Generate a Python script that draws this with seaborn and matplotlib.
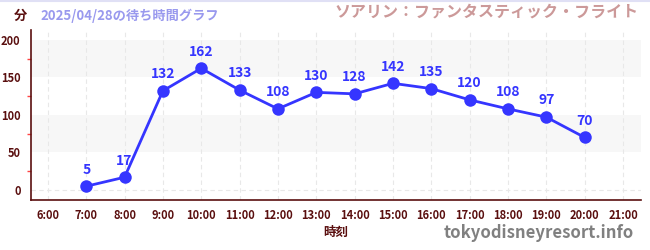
import matplotlib
matplotlib.use("Agg")
import matplotlib.pyplot as plt
import seaborn as sns
import pandas as pd
from matplotlib.ticker import MultipleLocator

hours = [7, 8, 9, 10, 11, 12, 13, 14, 15, 16, 17, 18, 19, 20]
waits = [5, 17, 132, 162, 133, 108, 130, 128, 142, 135, 120, 108, 97, 70]
tick_hours = list(range(6, 22))
tick_labels = [f"{h}:00" for h in tick_hours]
title_date = "2025/04/28の待ち時間グラフ"
title_ride = "ソアリン：ファンタスティック・フライト"

sns.set_theme(style="white")
plt.rcParams['font.family'] = ['Noto Sans CJK JP', 'DejaVu Sans']

df = pd.DataFrame({"hour": hours, "wait": waits})

fig = plt.figure(figsize=(6.5, 2.5), dpi=100)
ax = fig.add_axes([31/650, 1-200/250, 610/650, 170/250])

ax.axhspan(150, 200, color="#f7f7f7", zorder=0, lw=0)
ax.axhspan(50, 100, color="#f7f7f7", zorder=0, lw=0)
for h in tick_hours:
    ax.axvline(h, color="#e8e8e8", lw=0.8, ls=(0, (4, 3)), zorder=0.5)
ax.axhline(0, color="#e8e8e8", lw=0.8, ls=(0, (4, 3)), zorder=0.5)

line_color = "#3535ff"
sns.lineplot(data=df, x="hour", y="wait", ax=ax, color=line_color, lw=2.0,
             marker="o", markersize=9, markeredgewidth=0, zorder=3)
for h, w in zip(hours, waits):
    ax.annotate(str(w), (h, w), xytext=(0, 7), textcoords="offset points",
                ha="center", va="bottom", fontsize=10, fontweight="bold",
                color=line_color, zorder=4)

ax.set_xlim(5.56, 21.47)
ax.set_ylim(-13.3, 213)
ax.set_xticks(tick_hours)
ax.set_xticklabels(tick_labels)
ax.set_yticks([0, 50, 100, 150, 200])
ax.yaxis.set_minor_locator(MultipleLocator(25))
ax.tick_params(axis="both", which="major", labelsize=8, colors="#333333",
               labelcolor="#5a0f0f", length=4, width=1, direction="out")
ax.tick_params(axis="y", which="minor", length=3, width=1, colors="#ff4444", left=True)
ax.tick_params(axis="x", which="major", length=3)
for lab in ax.get_xticklabels() + ax.get_yticklabels():
    lab.set_fontweight("bold")

for s in ["top", "right"]:
    ax.spines[s].set_visible(False)
for s in ["left", "bottom"]:
    ax.spines[s].set_color("#5a0f0f")
    ax.spines[s].set_linewidth(1.2)

ax.set_xlabel("時刻", fontsize=9, fontweight="bold", color="#5a0f0f", labelpad=3)
ax.set_ylabel("")

fig.text(20/650, 1-16/250, "分", fontsize=9.5, fontweight="bold", color="#5a0f0f",
         ha="center", va="center")
fig.text(40/650, 1-16/250, title_date, fontsize=9.5, fontweight="bold", color="#9999ee",
         ha="left", va="center")
fig.text(639/650, 1-12/250, title_ride, fontsize=11.5, fontweight="bold", color="#cc9999",
         ha="right", va="center")
fig.text(634/650, 1-233/250, "tokyodisneyresort.info", fontsize=12, fontweight="bold",
         color="#808080", ha="right", va="center")
fig.add_artist(plt.Line2D([0, 1], [1-1/250, 1-1/250], color="#e0e0f5", lw=1.5,
                          transform=fig.transFigure))

fig.savefig("out.png", dpi=100)
